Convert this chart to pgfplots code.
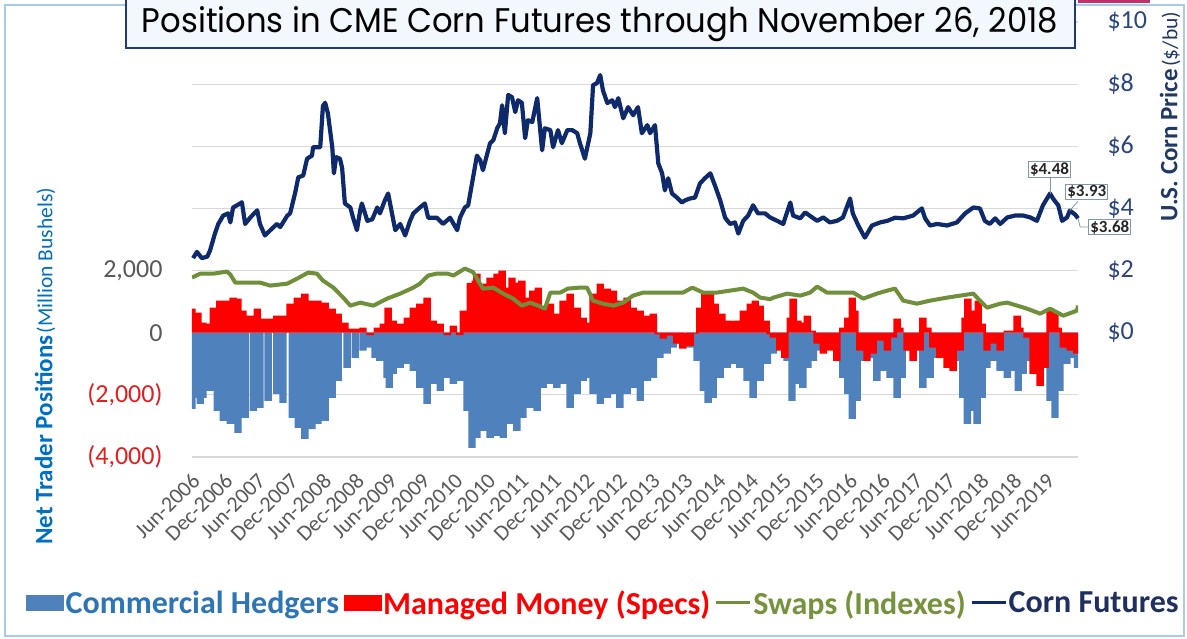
\documentclass[border=0pt]{standalone}
\usepackage{pgfplots}
\pgfplotsset{compat=1.18}
\usepackage{fontspec}
\setmainfont{Carlito}
\newfontfamily\titlefont{Poppins}
\definecolor{hedge}{HTML}{4F81BD}
\definecolor{spec}{HTML}{FF0000}
\definecolor{swapc}{HTML}{6F8F3A}
\definecolor{corn}{HTML}{0F2A6B}
\definecolor{gridc}{HTML}{D9D9D9}
\definecolor{ltxt}{HTML}{0070C0}
\definecolor{rtxt}{HTML}{1F3864}
\definecolor{rtick}{HTML}{2B467E}
\definecolor{tickgray}{HTML}{595959}
\definecolor{negred}{HTML}{E02020}
\definecolor{framec}{HTML}{A9CBEA}
\definecolor{titlebox}{HTML}{1F3A7A}
\definecolor{titlefill}{HTML}{F3F8FE}
\definecolor{lblbox}{HTML}{8497B0}
\definecolor{legblue}{HTML}{2E75B6}
\definecolor{leggreen}{HTML}{76923C}
\definecolor{legnavy}{HTML}{1F2F60}
\definecolor{topbar}{HTML}{C0306A}
\pgfplotsset{
  sqlegend/.style={legend image code/.code={\fill[##1] (0pt,-8pt) rectangle (38pt,8pt);}},
  lnlegend/.style={legend image code/.code={\draw[##1] (0pt,0pt) -- (34pt,0pt);}},
}
\begin{document}
\begin{tikzpicture}[x=1pt,y=1pt]
\useasboundingbox (0,0) rectangle (1187,639);
\fill[white] (0,0) rectangle (1187,639);
\draw[framec, line width=1.2pt] (5,3) rectangle (1184,634);

\begin{axis}[
  at={(192pt,182pt)}, anchor=south west,
  width=886pt, height=435pt, scale only axis,
  xmin=-0.2, xmax=161.5, ymin=-4000, ymax=10000,
  axis line style={draw=none},
  major tick length=0pt,
  ytick={-4000,-2000,...,10000},
  yticklabels={{\color{negred}(4,000)},{\color{negred}(2,000)},0,{2,000},{},{},{},{}},
  ymajorgrids, grid style={gridc, line width=1.2pt},
  yticklabel style={font=\fontsize{26}{26}\selectfont, text=tickgray, xshift=-26pt},
  xtick={0,6,...,156},
  xticklabels={Jun-2006,Dec-2006,Jun-2007,Dec-2007,Jun-2008,Dec-2008,Jun-2009,Dec-2009,Jun-2010,Dec-2010,Jun-2011,Dec-2011,Jun-2012,Dec-2012,Jun-2013,Dec-2013,Jun-2014,Dec-2014,Jun-2015,Dec-2015,Jun-2016,Dec-2016,Jun-2017,Dec-2017,Jun-2018,Dec-2018,Jun-2019},
  xticklabel style={xshift=3pt, yshift=-20pt, rotate=45, anchor=east, inner sep=0pt,
    font=\fontsize{22}{22}\selectfont, text=tickgray},
  legend columns=4,
  legend style={at={(-0.1874,-0.3356)}, anchor=west, draw=none, fill=none,
    inner sep=0pt, font=\bfseries\fontsize{32}{32}\selectfont,
    nodes={inner xsep=1.5pt, inner ysep=0pt},
    /tikz/every even column/.append style={column sep=3pt}},
]
% Commercial hedgers (million bushels)
\addplot[ybar, bar width=1.35, bar shift=0pt, fill=hedge, draw=none, forget plot] table {
-0.2 -2450
0.4 -2100
1.3 -2290
1.8 -2100
3.1 -1870
4.4 -2516
5.5 -2840
6.8 -2935
8.2 -3226
9.5 -2742
11.0 -2516
12.2 -2420
13.7 -2194
15.3 -1968
16.4 -2258
18.1 -2742
19.2 -3065
20.4 -3420
21.7 -3100
22.8 -2935
24.1 -2840
25.4 -2100
26.5 -1548
28.1 -1130
29.6 -806
31.0 -580
32.3 -484
33.2 -806
34.1 -903
35.4 -1452
35.8 -1774
36.5 -1323
37.8 -1130
39.1 -1000
40.2 -1226
41.4 -1774
42.7 -2290
43.8 -1645
45.1 -1871
46.4 -1452
47.5 -1645
48.7 -1548
50.0 -2516
50.9 -3710
51.8 -3387
52.9 -3161
54.2 -3387
55.5 -3323
56.6 -3387
57.9 -2935
59.1 -3161
60.2 -2742
61.5 -2420
62.8 -2516
63.9 -1774
65.2 -1645
66.4 -1774
67.5 -1645
68.8 -2420
70.1 -1968
71.2 -1548
72.1 -1452
73.0 -1968
74.3 -2290
75.6 -2097
76.7 -1968
77.9 -2420
79.2 -1968
80.3 -1774
81.6 -2194
82.9 -1548
84.0 -1452
85.2 -806
86.5 -677
87.6 -484
88.9 -355
90.7 -484
92.0 -903
93.1 -1871
94.0 -2258
94.9 -2097
96.2 -1452
97.5 -1129
98.6 -1000
99.8 -1129
101.1 -1548
102.2 -2097
103.5 -1550
104.8 -1000
105.9 -677
107.1 -500
108.4 -903
109.3 -2194
110.2 -1645
111.3 -1774
112.2 -1129
113.2 -903
114.4 -580
115.7 -355
116.6 -400
117.5 -450
118.6 -1452
119.5 -1968
120.3 -2774
121.2 -2194
122.1 -903
123.6 -806
124.8 -1548
125.9 -1226
127.2 -1452
128.5 -2097
129.4 -1452
130.5 -580
131.3 -520
132.1 -484
133.2 -1774
134.5 -1452
135.8 -806
136.7 -650
137.6 -580
138.5 -700
139.4 -903
140.5 -2097
141.3 -2935
142.4 -2516
143.1 -2935
144.0 -2097
144.9 -1129
146.0 -903
147.3 -1226
148.6 -1452
149.6 -1226
150.6 -1871
151.5 -1323
152.8 -903
154.0 -700
155.1 -903
156.4 -2194
157.3 -2742
158.2 -1871
159.5 -1000
160.6 -806
161.4 -1129
};
% Managed money (million bushels)
\addplot[ybar, bar width=1.35, bar shift=0pt, fill=spec, draw=none, forget plot] table {
-0.2 774
0.4 484
0.9 645
1.8 323
3.1 290
3.7 806
4.9 1032
6.2 1032
7.3 1129
8.2 1100
9.1 710
10.4 548
11.7 774
12.8 452
14.1 452
15.3 548
16.4 548
17.7 935
19.0 1129
20.4 1258
21.7 1032
22.8 1032
24.1 968
25.4 774
26.5 613
27.7 323
28.7 129
29.9 129
31.0 161
32.3 -74
33.6 161
34.7 290
35.6 806
36.5 387
37.8 290
39.1 484
40.2 806
41.4 935
42.7 1129
43.8 387
45.1 290
46.4 -74
47.5 226
48.7 -74
49.3 710
50.6 1600
51.5 1677
51.8 1903
52.9 1580
54.2 1774
55.5 1903
56.4 2000
57.3 1452
58.2 1774
59.1 1613
60.0 1677
61.0 1129
62.0 1355
63.0 1452
63.9 774
65.2 935
66.4 613
67.5 1032
68.8 1258
70.1 806
71.2 484
72.1 323
73.0 1258
74.3 1580
75.6 1419
76.7 1355
77.9 1032
79.2 1129
80.3 806
81.6 710
82.9 548
84.0 613
84.9 -50
85.8 -194
87.1 -97
88.3 -355
89.4 -516
90.7 -420
91.6 -30
92.5 806
93.4 1258
94.4 1258
95.3 935
96.5 613
97.6 387
98.5 380
99.3 387
100.4 710
101.7 935
102.6 1032
103.5 871
104.6 387
105.3 -50
105.9 -161
107.1 -580
108.0 -806
109.0 484
109.5 1097
110.4 387
111.3 323
112.1 548
113.0 64
113.9 -355
115.0 -677
116.3 -580
117.5 -903
118.6 161
119.5 484
120.3 1129
120.8 710
121.7 -580
123.0 -903
124.1 -677
125.4 -258
126.7 -580
127.8 -161
128.5 452
129.0 161
130.3 -580
131.4 -903
132.7 -580
133.2 484
134.1 161
135.0 -484
136.3 -806
137.6 -1129
138.7 -1226
140.0 -580
140.9 484
141.4 1097
142.4 710
143.3 1032
144.0 290
144.9 -580
146.0 -355
147.3 -580
148.6 64
149.6 64
150.4 548
150.9 161
152.2 -161
153.3 -1323
154.6 -1710
155.5 -1129
156.4 710
157.3 645
157.9 161
158.8 -484
160.1 -580
161.3 -677
};
% Swaps (million bushels)
\addplot[swapc, line width=4pt, line join=round, forget plot] table {
-0.2 1774
1.3 1900
3.7 1900
6.2 1968
6.8 1870
7.7 1613
9.9 1613
12.2 1613
14.1 1516
17.2 1580
19.0 1742
21.0 1935
22.6 1900
23.7 1677
25.6 1452
27.4 1129
28.7 871
30.5 968
32.9 871
35.4 1097
37.8 1258
40.2 1452
41.4 1580
42.9 1839
44.5 1903
46.4 1903
47.5 1839
49.6 2065
51.1 1950
51.8 1742
52.9 1419
54.8 1450
56.6 1258
58.4 1097
60.0 871
61.5 968
63.0 871
64.2 774
65.2 1290
67.0 1290
68.4 1419
70.6 1452
71.9 1452
73.0 1032
74.8 935
76.7 871
78.5 968
80.3 1194
82.1 1290
84.7 1290
87.1 1290
89.4 1290
91.1 1452
93.1 1290
95.6 1290
98.0 1355
100.4 1419
102.2 1290
103.5 1129
105.3 1080
105.9 1129
108.4 1258
110.8 1194
112.6 1290
113.9 1484
115.7 1290
118.1 1290
120.5 1290
122.3 1097
124.8 1258
126.7 1355
128.1 1419
129.6 1032
132.1 935
134.5 1032
137.6 1129
140.0 1194
142.4 1258
143.6 1032
144.9 806
147.3 935
148.6 968
150.4 871
152.2 774
154.6 613
156.4 774
158.8 548
161.3 710
161.5 871
};
\addlegendimage{sqlegend, fill=hedge, draw=none}
\addlegendentry{\textcolor{legblue}{Commercial Hedgers}}
\addlegendimage{sqlegend, fill=spec, draw=none}
\addlegendentry{\textcolor{spec}{Managed Money (Specs)}}
\addlegendimage{lnlegend, swapc, line width=3pt}
\addlegendentry{\textcolor{leggreen}{Swaps (Indexes)}}
\addlegendimage{lnlegend, corn, line width=3pt}
\addlegendentry{\textcolor{legnavy}{Corn Futures}}
\end{axis}

\begin{axis}[
  at={(192pt,182pt)}, anchor=south west,
  width=886pt, height=435pt, scale only axis,
  xmin=-0.2, xmax=161.5, ymin=-4, ymax=10,
  axis line style={draw=none}, hide x axis,
  major tick length=0pt,
  ytick={0,2,...,10},
  yticklabels={\$0,\$2,\$4,\$6,\$8,\$10},
  yticklabel pos=right,
  yticklabel style={font=\fontsize{26}{26}\selectfont, text=rtick, xshift=26pt},
  clip=false,
]
% Corn futures price ($/bu)
\addplot[corn, line width=4.2pt, line join=round] table {
0.0 2.40
0.7 2.60
1.6 2.40
2.6 2.45
3.1 2.65
4.0 3.20
4.6 3.50
5.5 3.77
6.4 3.84
6.8 3.55
7.3 4.03
8.6 4.16
8.9 4.20
9.5 3.50
10.4 3.70
11.7 3.94
12.2 3.50
13.1 3.13
14.1 3.30
15.3 3.50
15.9 3.40
17.2 3.77
17.7 3.84
18.6 4.48
19.2 5.00
20.1 5.06
20.8 5.60
21.7 5.70
21.9 5.97
23.2 5.97
23.7 7.30
24.1 7.40
24.6 7.06
25.4 5.97
25.7 5.13
26.1 5.65
26.8 5.60
27.2 5.30
27.7 4.16
28.7 4.03
29.2 3.70
29.9 3.30
30.5 3.94
30.8 4.16
31.8 3.60
32.7 3.65
33.6 4.03
34.1 3.84
35.0 4.26
35.6 4.48
36.3 3.84
36.9 3.30
37.8 3.50
38.7 3.13
39.6 3.60
40.2 3.84
41.4 4.03
42.3 4.16
42.9 3.70
44.5 3.70
45.6 3.50
46.9 3.70
48.2 3.30
48.7 3.70
49.6 4.03
50.2 4.10
51.1 5.00
51.8 5.70
52.4 5.55
52.9 5.23
53.7 5.77
54.2 6.10
54.8 6.20
55.5 6.58
56.0 6.74
56.4 7.32
56.9 6.42
57.5 7.65
58.2 7.58
58.8 7.10
59.3 7.48
60.0 7.40
60.6 6.26
61.1 6.84
61.9 6.78
62.8 7.55
63.7 5.87
64.2 6.58
65.2 6.52
65.7 5.97
66.6 6.52
67.3 6.10
68.3 6.52
69.2 6.52
70.1 6.42
70.6 6.10
71.5 5.60
72.5 6.42
73.0 7.97
73.7 8.03
74.3 8.29
74.8 7.80
75.6 7.39
76.5 7.48
77.0 7.26
77.6 7.55
78.5 6.90
79.4 7.26
80.3 7.00
81.2 7.26
81.9 6.42
82.9 6.68
83.4 6.42
84.3 6.68
84.9 5.45
85.6 5.13
86.1 4.58
86.7 4.97
87.4 4.48
88.3 4.35
89.2 4.19
89.8 4.26
90.7 4.32
91.6 4.35
92.5 4.80
93.4 4.97
94.4 5.13
95.3 4.71
96.2 4.26
97.1 3.70
98.0 3.50
98.9 3.55
99.5 3.19
100.4 3.60
101.3 3.77
102.2 4.10
103.1 3.84
104.4 3.84
105.3 3.71
106.6 3.60
107.7 3.50
109.0 4.19
109.5 3.77
110.8 3.68
111.7 3.87
113.0 3.71
113.9 3.60
115.0 3.71
116.2 3.55
117.5 3.60
118.6 3.71
119.9 4.32
120.4 3.84
121.4 3.45
122.6 3.06
123.9 3.45
125.4 3.55
126.7 3.60
128.1 3.70
129.6 3.68
131.4 3.77
133.0 4.00
133.6 3.68
134.5 3.45
135.8 3.50
137.6 3.45
139.4 3.55
140.9 3.84
142.4 4.03
143.6 4.00
144.5 3.60
145.4 3.50
146.4 3.68
147.3 3.50
148.6 3.71
150.0 3.77
151.5 3.77
152.8 3.71
154.0 3.60
155.1 4.10
156.4 4.48
157.0 4.30
157.9 4.10
158.6 3.60
159.5 3.71
160.0 3.93
161.0 3.80
161.5 3.68
};
\tikzset{dlbl/.style={draw=lblbox, fill=white, line width=1pt, inner xsep=1.5pt, inner ysep=1pt,
  font=\bfseries\fontsize{17}{17}\selectfont, text=black!85}}
\draw[lblbox, line width=0.8pt] (axis cs:156.4,4.48) -- (axis cs:156.4,5.0);
\node[dlbl] at (axis cs:156.3,5.26) {\$4.48};
\draw[lblbox, line width=0.8pt] (axis cs:160.0,3.93) -- (axis cs:161.5,4.23);
\node[dlbl] at (axis cs:163.1,4.52) {\$3.93};
\draw[lblbox, line width=0.8pt] (axis cs:161.5,3.68) -- (axis cs:161.9,3.40) -- (axis cs:163.3,3.40);
\node[dlbl] at (axis cs:167.3,3.40) {\$3.68};
\end{axis}

% title box
\draw[titlebox, fill=titlefill, line width=1.5pt] (126,591) rectangle (1075,645);
\node at (600,615) {\resizebox{916pt}{26pt}{\titlefont Positions in CME Corn Futures through November 26, 2018}};
\fill[topbar] (1078,636) rectangle (1150,639);

% axis titles
\node[rotate=90, anchor=west, inner sep=0pt] at (45,94)
  {\color{ltxt}{\bfseries\fontsize{25}{25}\selectfont Net Trader Positions} {\fontsize{21.5}{21.5}\selectfont (Million Bushels)}};
\node[rotate=90, anchor=west, inner sep=0pt] at (1170,417)
  {\color{rtxt}{\bfseries\fontsize{25}{25}\selectfont U.S. Corn Price} {\fontsize{21.5}{21.5}\selectfont (\$/bu)}};
\end{tikzpicture}
\end{document}
